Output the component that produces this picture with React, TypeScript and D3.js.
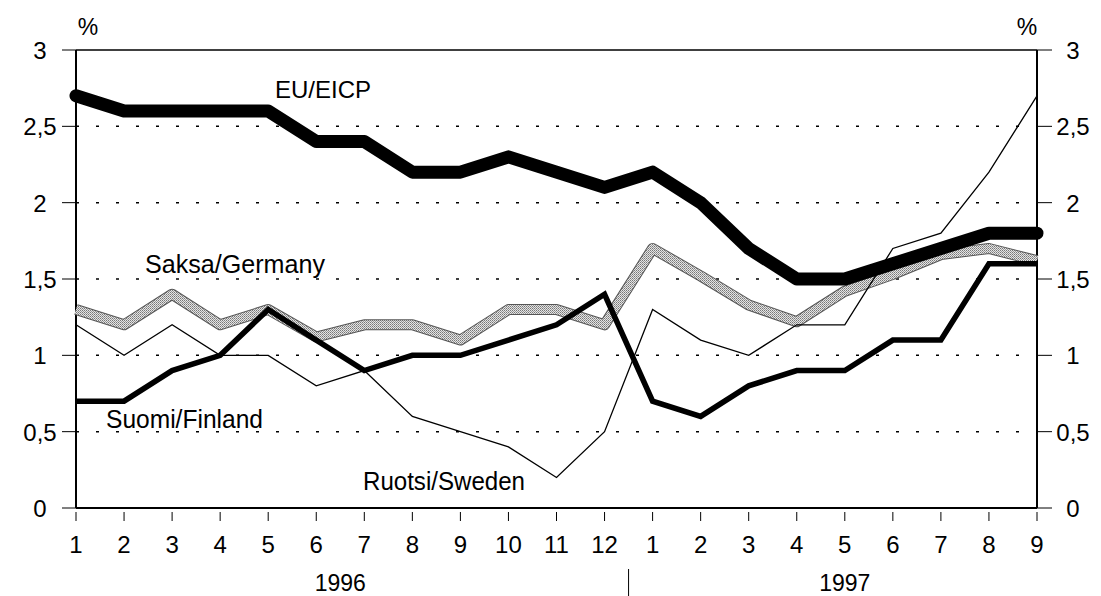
import React from "react";
import * as d3 from "d3";

const monthLabels = ["1","2","3","4","5","6","7","8","9","10","11","12","1","2","3","4","5","6","7","8","9"];
const eu = [2.7,2.6,2.6,2.6,2.6,2.4,2.4,2.2,2.2,2.3,2.2,2.1,2.2,2.0,1.7,1.5,1.5,1.6,1.7,1.8,1.8];
const germany = [1.3,1.2,1.4,1.2,1.3,1.12,1.2,1.2,1.1,1.3,1.3,1.2,1.7,1.52,1.33,1.22,1.42,1.53,1.66,1.7,1.62];
const sweden = [1.2,1.0,1.2,1.0,1.0,0.8,0.9,0.6,0.5,0.4,0.2,0.5,1.3,1.1,1.0,1.2,1.2,1.7,1.8,2.2,2.7];
const finland = [0.7,0.7,0.9,1.0,1.3,1.1,0.9,1.0,1.0,1.1,1.2,1.4,0.7,0.6,0.8,0.9,0.9,1.1,1.1,1.6,1.6];
const yTicks = [0,0.5,1,1.5,2,2.5,3];
const gridTicks = [0.5,1,1.5,2,2.5];
const years = [{ label: "1996", from: 0, to: 11 }, { label: "1997", from: 12, to: 20 }];

const W = 1101, H = 596;
const L = 76, R = 1037, T = 50, B = 508;
const FONT = "'Liberation Sans', Arial, Helvetica, sans-serif";

export default function App() {
  const x = d3.scaleLinear().domain([0, monthLabels.length - 1]).range([L, R]);
  const y = d3.scaleLinear().domain([0, 3]).range([B, T]);
  const line = d3.line<number>().x((_, i) => x(i)).y((d) => y(d));
  const fmt = (v: number) => String(v).replace(".", ",");

  return (
    <svg width={W} height={H} style={{ position: "absolute", left: 0, top: 0, background: "#fff" }} fontFamily={FONT}>
      <defs>
        <pattern id="stip" width="2" height="2" patternUnits="userSpaceOnUse">
          <rect width="2" height="2" fill="#e4e4e4" />
          <rect width="1" height="1" fill="#777" />
          <rect x="1" y="1" width="1" height="1" fill="#999" />
        </pattern>
      </defs>
      <rect x={0} y={0} width={W} height={H} fill="#fff" />

      {gridTicks.map((t) => (
        <line key={t} x1={L} x2={R} y1={y(t)} y2={y(t)} stroke="#000" strokeWidth={1.5} strokeDasharray="3 17" />
      ))}

      <line x1={L} x2={R} y1={T} y2={T} stroke="#000" strokeWidth={1.5} />
      <line x1={L} x2={L} y1={T} y2={B} stroke="#000" strokeWidth={2} />
      <line x1={R} x2={R} y1={T} y2={B} stroke="#000" strokeWidth={2} />
      <line x1={L} x2={R} y1={B} y2={B} stroke="#000" strokeWidth={2} />

      {yTicks.map((t) => (
        <g key={t}>
          <line x1={L - 14} x2={L} y1={y(t)} y2={y(t)} stroke="#000" strokeWidth={1} />
          <line x1={R} x2={R + 15} y1={y(t)} y2={y(t)} stroke="#000" strokeWidth={1} />
          <text x={40} y={y(t) + 9} fontSize={24} textAnchor="middle">{fmt(t)}</text>
          <text x={1073} y={y(t) + 9} fontSize={24} textAnchor="middle">{fmt(t)}</text>
        </g>
      ))}
      <text x={88} y={35} fontSize={23} textAnchor="middle">%</text>
      <text x={1027} y={35} fontSize={23} textAnchor="middle">%</text>

      {monthLabels.map((m, i) => (
        <g key={i}>
          <line x1={x(i)} x2={x(i)} y1={B + 4} y2={B + 13} stroke="#000" strokeWidth={1} />
          <text x={x(i)} y={553} fontSize={24} textAnchor="middle">{m}</text>
        </g>
      ))}
      {years.map((yr) => (
        <text key={yr.label} x={(x(yr.from) + x(yr.to)) / 2} y={591} fontSize={23} textAnchor="middle">{yr.label}</text>
      ))}
      <line x1={(x(11) + x(12)) / 2} x2={(x(11) + x(12)) / 2} y1={569} y2={596} stroke="#000" strokeWidth={1} />

      <path d={line(germany) || ""} fill="none" stroke="#555" strokeWidth={11} strokeLinejoin="round" />
      <path d={line(germany) || ""} fill="none" stroke="url(#stip)" strokeWidth={9} strokeLinejoin="round" />
      <path d={line(sweden) || ""} fill="none" stroke="#000" strokeWidth={1.3} strokeLinejoin="miter" />
      <path d={line(finland) || ""} fill="none" stroke="#000" strokeWidth={5.5} strokeLinejoin="miter" />
      <path d={line(eu) || ""} fill="none" stroke="#000" strokeWidth={13} strokeLinejoin="round" strokeLinecap="round" />

      <text x={275} y={98} fontSize={24} textLength={96} lengthAdjust="spacingAndGlyphs">EU/EICP</text>
      <text x={145} y={273} fontSize={25} textLength={180} lengthAdjust="spacingAndGlyphs">Saksa/Germany</text>
      <text x={106} y={428} fontSize={25} textLength={157} lengthAdjust="spacingAndGlyphs">Suomi/Finland</text>
      <text x={363} y={490} fontSize={25} textLength={162} lengthAdjust="spacingAndGlyphs">Ruotsi/Sweden</text>
    </svg>
  );
}
